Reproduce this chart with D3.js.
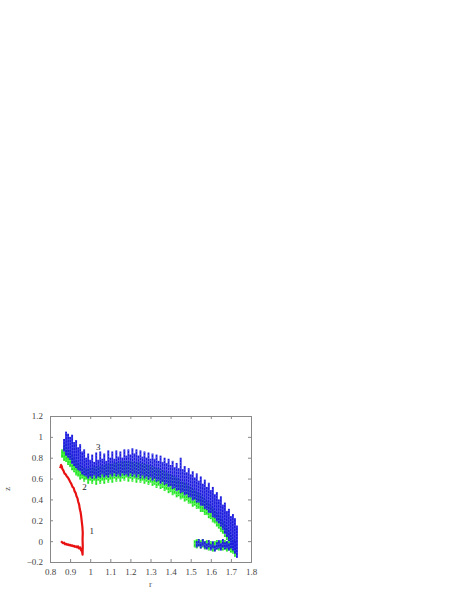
<!DOCTYPE html>
<html>
<head>
<meta charset="utf-8">
<script src="https://cdn.jsdelivr.net/npm/d3@7"></script>
<style>
  body { margin: 0; background: #fff; }
  .axis text { font-family: 'Liberation Serif', 'DejaVu Serif', serif; font-size: 9px; fill: #444; }
  .lbl { font-family: 'Liberation Serif', 'DejaVu Serif', serif; font-size: 9px; fill: #222; }
</style>
</head>
<body>
<div id="chart"></div>
<script>
// tick values
const xTicks = [0.8, 0.9, 1, 1.1, 1.2, 1.3, 1.4, 1.5, 1.6, 1.7, 1.8]
const yTicks = [-0.2, 0, 0.2, 0.4, 0.6, 0.8, 1, 1.2]

// curve 1 (red trajectory): [r, z]
const curve1 = [
  [0.855, 0.00], [0.86, -0.01], [0.865, -0.02], [0.87, -0.015], [0.875, -0.03], [0.88, -0.025],
  [0.885, -0.035], [0.89, -0.03], [0.895, -0.04], [0.90, -0.035], [0.905, -0.045], [0.91, -0.04],
  [0.915, -0.05], [0.92, -0.045], [0.925, -0.055], [0.93, -0.05], [0.935, -0.06], [0.94, -0.05],
  [0.945, -0.07], [0.95, -0.06], [0.955, -0.09], [0.958, -0.08], [0.962, -0.13],
  [0.963, -0.05], [0.962, 0.02], [0.963, 0.08], [0.961, 0.14], [0.958, 0.19], [0.955, 0.24],
  [0.952, 0.28], [0.948, 0.31], [0.945, 0.35], [0.94, 0.38], [0.937, 0.41], [0.932, 0.43],
  [0.928, 0.46], [0.922, 0.48], [0.918, 0.51], [0.912, 0.52], [0.906, 0.55], [0.90, 0.57],
  [0.895, 0.59], [0.889, 0.61], [0.884, 0.62], [0.878, 0.64], [0.872, 0.65], [0.866, 0.68],
  [0.862, 0.69], [0.858, 0.72], [0.855, 0.73], [0.852, 0.71], [0.85, 0.70]
]

// curve 2 (green band): [r, zLow, zHigh]
const curve2 = [
  [0.86, 0.80, 0.88], [0.87, 0.77, 0.91], [0.88, 0.76, 0.94], [0.89, 0.73, 0.89], [0.90, 0.71, 0.87],
  [0.91, 0.68, 0.83], [0.92, 0.66, 0.81], [0.93, 0.63, 0.78], [0.94, 0.62, 0.76], [0.95, 0.59, 0.74],
  [0.96, 0.60, 0.72], [0.97, 0.57, 0.71], [0.98, 0.59, 0.70], [0.99, 0.55, 0.70], [1.00, 0.58, 0.71],
  [1.01, 0.55, 0.70], [1.02, 0.58, 0.72], [1.03, 0.54, 0.71], [1.04, 0.58, 0.72], [1.05, 0.55, 0.71],
  [1.06, 0.58, 0.73], [1.07, 0.55, 0.72], [1.08, 0.59, 0.74], [1.09, 0.56, 0.73], [1.10, 0.59, 0.75],
  [1.11, 0.56, 0.74], [1.12, 0.60, 0.75], [1.13, 0.57, 0.75], [1.14, 0.60, 0.76], [1.15, 0.57, 0.75],
  [1.16, 0.60, 0.77], [1.17, 0.58, 0.76], [1.18, 0.61, 0.77], [1.19, 0.57, 0.76], [1.20, 0.60, 0.77],
  [1.21, 0.57, 0.76], [1.22, 0.60, 0.76], [1.23, 0.56, 0.75], [1.24, 0.59, 0.76], [1.25, 0.56, 0.75],
  [1.26, 0.58, 0.75], [1.27, 0.55, 0.74], [1.28, 0.57, 0.74], [1.29, 0.54, 0.73], [1.30, 0.56, 0.73],
  [1.31, 0.53, 0.72], [1.32, 0.54, 0.71], [1.33, 0.51, 0.70], [1.34, 0.53, 0.70], [1.35, 0.50, 0.69],
  [1.36, 0.51, 0.68], [1.37, 0.48, 0.67], [1.38, 0.49, 0.66], [1.39, 0.46, 0.65], [1.40, 0.47, 0.64],
  [1.41, 0.44, 0.63], [1.42, 0.45, 0.62], [1.43, 0.42, 0.61], [1.44, 0.43, 0.60], [1.45, 0.40, 0.58],
  [1.46, 0.41, 0.57], [1.47, 0.38, 0.56], [1.48, 0.39, 0.55], [1.49, 0.36, 0.53], [1.50, 0.36, 0.52],
  [1.51, 0.33, 0.50], [1.52, 0.34, 0.49], [1.53, 0.31, 0.47], [1.54, 0.31, 0.46], [1.55, 0.28, 0.44],
  [1.56, 0.28, 0.42], [1.57, 0.25, 0.40], [1.58, 0.25, 0.38], [1.59, 0.22, 0.36], [1.60, 0.21, 0.34],
  [1.61, 0.18, 0.32], [1.62, 0.17, 0.29], [1.63, 0.14, 0.27], [1.64, 0.12, 0.24], [1.65, 0.09, 0.22],
  [1.66, 0.07, 0.19], [1.67, 0.04, 0.16], [1.68, 0.01, 0.13], [1.69, -0.03, 0.10], [1.70, -0.06, 0.06],
  [1.71, -0.10, 0.02], [1.72, -0.15, -0.02]
]
const curve2Return = [
  [1.52, -0.06, 0.01], [1.53, -0.07, 0.02], [1.54, -0.05, 0.02], [1.55, -0.07, 0.01], [1.56, -0.06, 0.02],
  [1.57, -0.08, 0.00], [1.58, -0.07, 0.01], [1.59, -0.09, -0.01], [1.60, -0.08, 0.00], [1.61, -0.10, -0.01],
  [1.62, -0.09, 0.00], [1.63, -0.08, 0.01], [1.64, -0.09, 0.00], [1.65, -0.08, 0.01], [1.66, -0.09, 0.00],
  [1.67, -0.08, 0.01], [1.68, -0.10, 0.00], [1.69, -0.09, 0.01], [1.70, -0.11, 0.00], [1.71, -0.12, 0.00]
]

// curve 3 (blue band): [r, zLow, zHigh]
const curve3 = [
  [0.87, 0.86, 0.98], [0.88, 0.82, 1.05], [0.89, 0.80, 1.03], [0.90, 0.78, 1.00], [0.91, 0.74, 1.02],
  [0.92, 0.72, 0.95], [0.93, 0.70, 0.97], [0.94, 0.68, 0.90], [0.95, 0.67, 0.93], [0.96, 0.64, 0.86],
  [0.97, 0.63, 0.88], [0.98, 0.62, 0.80], [0.99, 0.60, 0.84], [1.00, 0.62, 0.78], [1.01, 0.60, 0.83],
  [1.02, 0.63, 0.76], [1.03, 0.60, 0.85], [1.04, 0.62, 0.78], [1.05, 0.61, 0.86], [1.06, 0.64, 0.79],
  [1.07, 0.61, 0.84], [1.08, 0.63, 0.77], [1.09, 0.61, 0.87], [1.10, 0.64, 0.80], [1.11, 0.62, 0.86],
  [1.12, 0.65, 0.79], [1.13, 0.62, 0.87], [1.14, 0.64, 0.81], [1.15, 0.62, 0.86], [1.16, 0.65, 0.80],
  [1.17, 0.63, 0.88], [1.18, 0.64, 0.82], [1.19, 0.62, 0.88], [1.20, 0.65, 0.83], [1.21, 0.62, 0.89],
  [1.22, 0.64, 0.84], [1.23, 0.61, 0.88], [1.24, 0.64, 0.82], [1.25, 0.60, 0.87], [1.26, 0.63, 0.81],
  [1.27, 0.60, 0.86], [1.28, 0.62, 0.80], [1.29, 0.59, 0.85], [1.30, 0.61, 0.79], [1.31, 0.58, 0.84],
  [1.32, 0.60, 0.79], [1.33, 0.57, 0.83], [1.34, 0.58, 0.77], [1.35, 0.55, 0.82], [1.36, 0.57, 0.76],
  [1.37, 0.54, 0.80], [1.38, 0.55, 0.75], [1.39, 0.52, 0.79], [1.40, 0.53, 0.73], [1.41, 0.50, 0.77],
  [1.42, 0.51, 0.71], [1.43, 0.48, 0.75], [1.44, 0.49, 0.70], [1.45, 0.46, 0.80], [1.46, 0.47, 0.69],
  [1.47, 0.44, 0.72], [1.48, 0.45, 0.66], [1.49, 0.42, 0.70], [1.50, 0.42, 0.64], [1.51, 0.39, 0.67],
  [1.52, 0.40, 0.61], [1.53, 0.37, 0.65], [1.54, 0.37, 0.58], [1.55, 0.34, 0.62], [1.56, 0.34, 0.55],
  [1.57, 0.31, 0.59], [1.58, 0.30, 0.52], [1.59, 0.27, 0.56], [1.60, 0.27, 0.49], [1.61, 0.23, 0.52],
  [1.62, 0.22, 0.45], [1.63, 0.19, 0.47], [1.64, 0.17, 0.40], [1.65, 0.14, 0.43], [1.66, 0.11, 0.35],
  [1.67, 0.07, 0.37], [1.68, 0.04, 0.29], [1.69, 0.00, 0.31], [1.70, -0.04, 0.24], [1.71, -0.08, 0.26],
  [1.72, -0.12, 0.22], [1.73, -0.16, 0.15]
]
const curve3Return = [
  [1.53, -0.06, 0.00], [1.54, -0.05, 0.02], [1.55, -0.07, -0.01], [1.56, -0.05, 0.02], [1.57, -0.07, 0.00],
  [1.58, -0.08, -0.02], [1.59, -0.06, 0.01], [1.60, -0.09, -0.03], [1.61, -0.07, 0.00], [1.62, -0.10, -0.04],
  [1.63, -0.08, -0.01], [1.64, -0.07, 0.01], [1.65, -0.09, -0.02], [1.66, -0.06, 0.02], [1.67, -0.08, -0.01],
  [1.68, -0.07, 0.00], [1.69, -0.09, -0.02], [1.70, -0.07, 0.00], [1.71, -0.09, -0.01], [1.72, -0.10, 0.00]
]

// curve number labels: [label, r, z]
const curveLabels = [['1', 1.008, 0.1], ['2', 0.972, 0.52], ['3', 1.04, 0.9]]

const margin = { top: 416, right: 207, bottom: 30, left: 50 }
const width = 458 - margin.left - margin.right
const height = 592 - margin.top - margin.bottom

const svg = d3
  .select('#chart')
  .append('svg')
  .attr('width', 458)
  .attr('height', 592)
  .append('g')
  .attr('transform', 'translate(' + margin.left + ',' + margin.top + ')')

const xPositionScale = d3.scaleLinear().domain([0.8, 1.8]).range([0, width])
const yPositionScale = d3.scaleLinear().domain([-0.2, 1.2]).range([height, 0])

const clip = svg.append('clipPath').attr('id', 'plot-clip')
clip.append('rect').attr('width', width).attr('height', height)

const plot = svg.append('g').attr('clip-path', 'url(#plot-clip)')

// noisy bands: a dark streak per column with lighter dots on top
function drawBand(data, color, dotColor) {
  const g = plot.append('g')
  g.selectAll('line.base')
    .data(data)
    .enter()
    .append('line')
    .attr('class', 'base')
    .attr('x1', d => xPositionScale(d[0]))
    .attr('x2', d => xPositionScale(d[0]))
    .attr('y1', d => yPositionScale(d[1]))
    .attr('y2', d => yPositionScale(d[2]))
    .attr('stroke', color)
    .attr('stroke-width', 1.9)
  g.selectAll('line.dots')
    .data(data)
    .enter()
    .append('line')
    .attr('class', 'dots')
    .attr('x1', d => xPositionScale(d[0]))
    .attr('x2', d => xPositionScale(d[0]))
    .attr('y1', d => yPositionScale(d[1]))
    .attr('y2', d => yPositionScale(d[2]))
    .attr('stroke', dotColor)
    .attr('stroke-width', 1)
    .attr('stroke-dasharray', '0.8,2.4')
    .attr('stroke-dashoffset', (d, i) => (i % 4) * 0.8)
}

drawBand(curve2, '#22e622', '#8cff8c')
drawBand(curve2Return, '#22e622', '#8cff8c')
drawBand(curve3, '#1c1cdc', '#6a6aff')
drawBand(curve3Return, '#1c1cdc', '#6a6aff')

const line = d3
  .line()
  .x(d => xPositionScale(d[0]))
  .y(d => yPositionScale(d[1]))

plot
  .append('path')
  .datum(curve1)
  .attr('d', line)
  .attr('fill', 'none')
  .attr('stroke', '#e81010')
  .attr('stroke-width', 2.2)
  .attr('stroke-linejoin', 'round')

svg
  .selectAll('.curve-lbl')
  .data(curveLabels)
  .enter()
  .append('text')
  .attr('class', 'lbl curve-lbl')
  .attr('x', d => xPositionScale(d[1]))
  .attr('y', d => yPositionScale(d[2]))
  .attr('dy', '0.35em')
  .attr('text-anchor', 'middle')
  .text(d => d[0])

// axes with inward ticks, mirrored like gnuplot
const xAxis = d3.axisBottom(xPositionScale).tickValues(xTicks).tickSize(-3).tickPadding(7).tickFormat(d3.format('~g'))
const xAxisTop = d3.axisTop(xPositionScale).tickValues(xTicks).tickSize(-3).tickFormat('')
const yAxis = d3.axisLeft(yPositionScale).tickValues(yTicks).tickSize(-3).tickPadding(7).tickFormat(d3.format('~g'))
const yAxisRight = d3.axisRight(yPositionScale).tickValues(yTicks).tickSize(-3).tickFormat('')

svg.append('g').attr('class', 'axis x-axis').attr('transform', 'translate(0,' + height + ')').call(xAxis)
svg.append('g').attr('class', 'axis').call(xAxisTop)
svg.append('g').attr('class', 'axis y-axis').call(yAxis)
svg.append('g').attr('class', 'axis').attr('transform', 'translate(' + width + ',0)').call(yAxisRight)

svg.selectAll('.axis .domain').attr('stroke', '#888')
svg.selectAll('.axis line').attr('stroke', '#888')

// axis titles
svg
  .append('text')
  .attr('class', 'lbl')
  .attr('x', width / 2)
  .attr('y', height + 25)
  .attr('text-anchor', 'middle')
  .style('fill', '#555')
  .text('r')

svg
  .append('text')
  .attr('class', 'lbl')
  .attr('transform', 'translate(' + (-40) + ',' + height / 2 + ') rotate(-90)')
  .attr('text-anchor', 'middle')
  .style('fill', '#555')
  .text('z')
</script>
</body>
</html>
